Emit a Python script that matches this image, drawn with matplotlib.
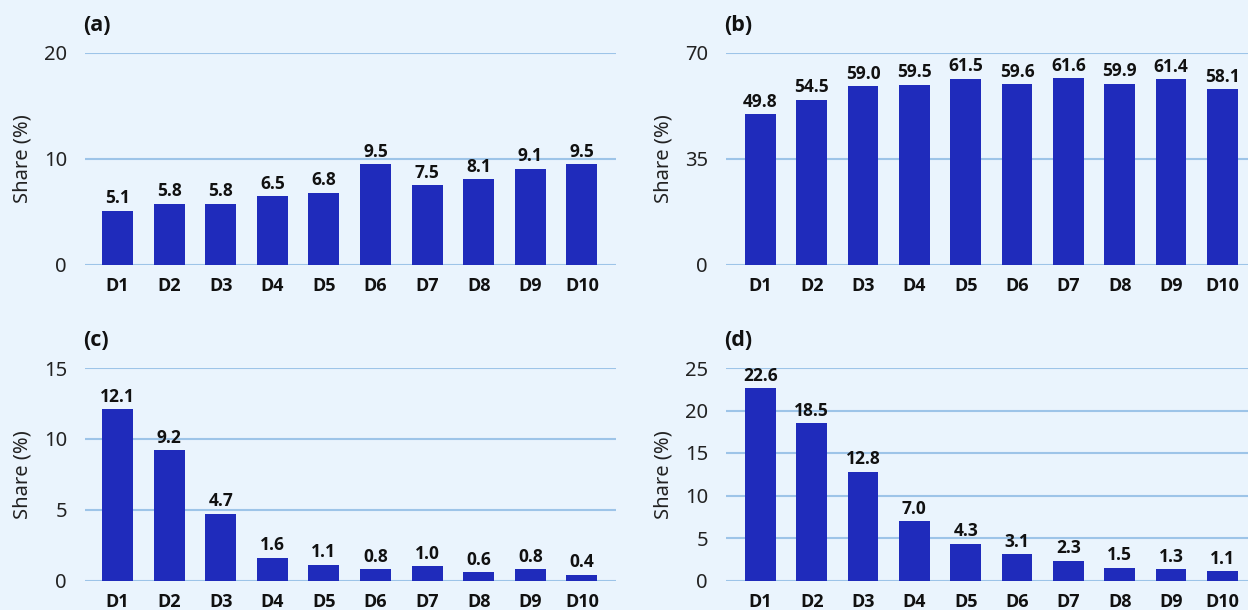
import matplotlib
matplotlib.use("Agg")
import matplotlib.pyplot as plt
from matplotlib import font_manager as fm

plt.rcParams['font.family'] = ['Noto Sans', 'DejaVu Sans']

categories = ["D1", "D2", "D3", "D4", "D5", "D6", "D7", "D8", "D9", "D10"]
values_a = [5.1, 5.8, 5.8, 6.5, 6.8, 9.5, 7.5, 8.1, 9.1, 9.5]
values_b = [49.8, 54.5, 59.0, 59.5, 61.5, 59.6, 61.6, 59.9, 61.4, 58.1]
values_c = [12.1, 9.2, 4.7, 1.6, 1.1, 0.8, 1.0, 0.6, 0.8, 0.4]
values_d = [22.6, 18.5, 12.8, 7.0, 4.3, 3.1, 2.3, 1.5, 1.3, 1.1]
panel_labels = ["(a)", "(b)", "(c)", "(d)"]
yticks_a = [0, 10, 20]
yticks_b = [0, 35, 70]
yticks_c = [0, 5, 10, 15]
yticks_d = [0, 5, 10, 15, 20, 25]

BG = "#EAF4FD"
BAR = "#1F2BBB"
GRID = "#9DC4E8"
W, H = 1248, 610

bold_fp = None
for f in fm.fontManager.ttflist:
    if f.name == "Open Sans" and f.weight in (700, "bold") and f.stretch in ("normal", 400, 500) and f.style == "normal":
        bold_fp = f.fname
        break


def bold(size):
    if bold_fp:
        return fm.FontProperties(fname=bold_fp, size=size)
    return fm.FontProperties(family=["Open Sans", "DejaVu Sans"], weight="bold", size=size)


fig = plt.figure(figsize=(W / 100, H / 100), dpi=100, facecolor=BG)


def make_axes(left, right, top, bottom):
    return fig.add_axes([left / W, 1 - bottom / H, (right - left) / W, (bottom - top) / H])


panels = [
    (make_axes(85, 616, 53, 265), values_a, yticks_a, (-0.63, 9.66)),
    (make_axes(726, 1248, 53, 265), values_b, yticks_b, (-0.67, 9.5)),
    (make_axes(85, 616, 368, 580.5), values_c, yticks_c, (-0.63, 9.66)),
    (make_axes(726, 1248, 368, 580.5), values_d, yticks_d, (-0.67, 9.5)),
]

for (ax, vals, yt, xl), lab in zip(panels, panel_labels):
    ax.set_facecolor(BG)
    x = list(range(len(categories)))
    ax.bar(x, vals, width=0.6, color=BAR, zorder=2)
    for xi, v in zip(x, vals):
        ax.annotate(f"{v:.1f}", (xi, v), xytext=(0, 2.5), textcoords="offset points",
                    ha="center", va="bottom", fontproperties=bold(12.5),
                    color="#111111", zorder=3)
    ax.set_xlim(*xl)
    ax.set_ylim(yt[0], yt[-1])
    ax.set_yticks(yt)
    ax.set_xticks(x)
    ax.set_xticklabels(categories, fontproperties=bold(13), color="#111111")
    ax.tick_params(axis="y", labelsize=14.5, length=0, pad=13, colors="#222222")
    ax.tick_params(axis="x", length=0, pad=9)
    ax.yaxis.grid(True, color=GRID, linewidth=1.5, zorder=0)
    ax.set_axisbelow(True)
    for s in ax.spines.values():
        s.set_visible(False)
    ax.set_ylabel("Share (%)", fontsize=14.5, color="#222222", labelpad=8)
    ax.text(-0.004, 1.13, lab, transform=ax.transAxes, fontproperties=bold(15.5),
            ha="left", va="center", color="#111111")

fig.savefig("out.png", dpi=100, facecolor=BG)
